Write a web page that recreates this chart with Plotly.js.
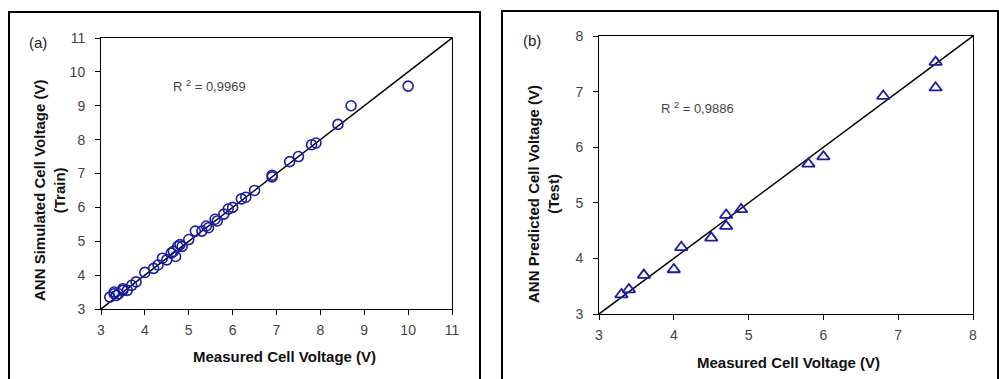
<!DOCTYPE html>
<html><head><meta charset="utf-8">
<script src="https://cdn.plot.ly/plotly-3.0.1.min.js"></script>
<style>html,body{margin:0;padding:0;background:#fff}#chart{width:999px;height:379px}</style>
</head><body><div id="chart"></div>
<script>
// (a) Training data: measured vs ANN simulated
const trainMeasured  = [3.2,3.3,3.3,3.35,3.4,3.5,3.5,3.6,3.7,3.8,4.0,4.2,4.3,4.4,4.5,4.6,4.65,4.7,4.75,4.8,4.85,5.0,5.15,5.3,5.4,5.45,5.6,5.65,5.8,5.9,6.0,6.2,6.3,6.5,6.9,6.9,7.3,7.5,7.8,7.9,8.4,8.7,10.0];
const trainSimulated = [3.35,3.45,3.5,3.4,3.45,3.55,3.6,3.55,3.7,3.8,4.08,4.2,4.3,4.5,4.45,4.65,4.7,4.55,4.85,4.9,4.85,5.05,5.3,5.3,5.45,5.4,5.65,5.6,5.8,5.95,6.0,6.25,6.3,6.5,6.95,6.9,7.35,7.5,7.85,7.9,8.45,9.0,9.58];
// (b) Test data: measured vs ANN predicted
const testMeasured  = [3.3,3.4,3.6,4.0,4.1,4.5,4.7,4.7,4.9,5.8,6.0,6.8,7.5,7.5];
const testPredicted = [3.35,3.44,3.7,3.8,4.2,4.37,4.78,4.58,4.88,5.7,5.83,6.92,7.53,7.07];
// 1:1 reference lines
const lineA = [3, 11];
const lineB = [3, 8];
const ticksA = [3,4,5,6,7,8,9,10,11];
const ticksB = [3,4,5,6,7,8];
const r2A = "0,9969";
const r2B = "0,9886";

const W = 999, H = 379;
const px = x => x / W;
const py = y => 1 - y / H;
const blue = '#1c1ca0';
const font = 'Liberation Sans, Arial, sans-serif';

const traces = [
  {x: lineA, y: lineA, mode: 'lines', line: {color: '#000', width: 1.5}, xaxis: 'x', yaxis: 'y', hoverinfo: 'skip'},
  {x: trainMeasured, y: trainSimulated, mode: 'markers', xaxis: 'x', yaxis: 'y',
   marker: {symbol: 'circle-open', size: 10, color: blue, line: {width: 1.6, color: blue}}},
  {x: lineB, y: lineB, mode: 'lines', line: {color: '#000', width: 1.5}, xaxis: 'x2', yaxis: 'y2', hoverinfo: 'skip'},
  {x: testMeasured, y: testPredicted, mode: 'markers', xaxis: 'x2', yaxis: 'y2',
   marker: {symbol: 'triangle-up-open', size: 11, color: blue, line: {width: 1.8, color: blue}}}
];

const axBase = {
  showgrid: false, zeroline: false, showline: true, linecolor: '#000', linewidth: 1,
  mirror: true, ticks: 'outside', ticklen: 5, tickcolor: '#000', tickwidth: 1,
  tickfont: {family: font, size: 14, color: '#444'}, fixedrange: true
};
const xBase = Object.assign({}, axBase, {ticklabelstandoff: 3});
const yBase = Object.assign({}, axBase, {ticklabelstandoff: 7});

function ann(x, y, text, size, color, extra) {
  return Object.assign({xref: 'paper', yref: 'paper', x: px(x), y: py(y), text: text, showarrow: false,
    xanchor: 'center', yanchor: 'middle', font: {family: font, size: size, color: color}}, extra || {});
}

const layout = {
  width: W, height: H, margin: {l: 0, r: 0, t: 0, b: 0},
  paper_bgcolor: '#fff', plot_bgcolor: '#fff', showlegend: false,
  xaxis: Object.assign({}, xBase, {domain: [px(101), px(452)], range: [3, 11], tickvals: ticksA, anchor: 'y'}),
  yaxis: Object.assign({}, yBase, {domain: [py(309), py(38)], range: [3, 11], tickvals: ticksA, anchor: 'x'}),
  xaxis2: Object.assign({}, xBase, {domain: [px(599), px(973)], range: [3, 8], tickvals: ticksB, anchor: 'y2'}),
  yaxis2: Object.assign({}, yBase, {domain: [py(314), py(36)], range: [3, 8], tickvals: ticksB, anchor: 'x2'}),
  shapes: [
    {type: 'rect', xref: 'paper', yref: 'paper', x0: px(9), x1: px(480), y0: -0.1, y1: py(12), line: {color: '#000', width: 2}},
    {type: 'rect', xref: 'paper', yref: 'paper', x0: px(502), x1: px(998), y0: -0.1, y1: py(11), line: {color: '#000', width: 2}}
  ],
  annotations: [
    ann(38, 42, '(a)', 15, '#222'),
    ann(532, 40, '(b)', 15, '#222'),
    ann(284, 356, '<b>Measured Cell Voltage (V)</b>', 15, '#111'),
    ann(788, 362, '<b>Measured Cell Voltage (V)</b>', 15, '#111'),
    ann(49, 191, '<b>ANN Simulated Cell Voltage (V)<br>(Train)</b>', 15, '#111', {textangle: -90}),
    ann(543, 194, '<b>ANN Predicted Cell Voltage (V)<br>(Test)</b>', 15, '#111', {textangle: -90}),
    ann(171, 86, 'R <sup>2</sup> = ' + r2A, 13, '#444', {xanchor: 'left'}),
    ann(659, 108, 'R <sup>2</sup> = ' + r2B, 13, '#444', {xanchor: 'left'})
  ]
};

Plotly.newPlot('chart', traces, layout, {displayModeBar: false, staticPlot: true});
</script></body></html>
